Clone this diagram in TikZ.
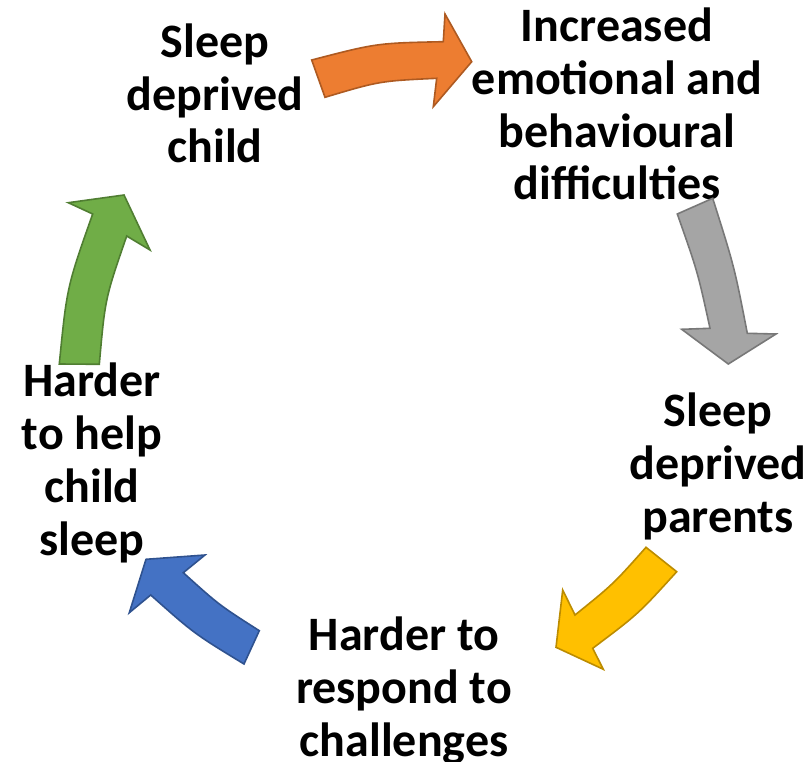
\documentclass[tikz,border=0pt]{standalone}
\usepackage{fontspec}
\setmainfont{Carlito}
\definecolor{orangeF}{HTML}{ED7D31}\definecolor{orangeD}{HTML}{AE5A21}
\definecolor{grayF}{HTML}{A5A5A5}\definecolor{grayD}{HTML}{787878}
\definecolor{yellowF}{HTML}{FFC000}\definecolor{yellowD}{HTML}{BC8C00}
\definecolor{blueF}{HTML}{4472C4}\definecolor{blueD}{HTML}{2F528F}
\definecolor{greenF}{HTML}{70AD47}\definecolor{greenD}{HTML}{507E32}
\begin{document}
\begin{tikzpicture}[x=1pt,y=-1pt,
  lbl/.style={align=center,anchor=base,inner sep=0pt,font=\bfseries\fontsize{48}{52.7}\selectfont},
  arr/.style={line width=1.6pt,line join=miter}]
\useasboundingbox (0,0) rectangle (808,762);
% labels (anchored at the baseline of their last line)
\node[lbl] (child) at (215,163) {Sleep\\deprived\\child};
\node[lbl] (emot) at (617,200) {Increased\\emotional and\\behavioural\\difficulties};
\node[lbl] (parents) at (718,532) {Sleep\\deprived\\parents};
\node[lbl] (resp) at (404,756) {Harder to\\respond to\\challenges};
\node[lbl] (help) at (92,555) {Harder\\to help\\child\\sleep};
% arrows
\draw[arr,fill=orangeF,draw=orangeD] (311.7,60) .. controls (376.8,43.1) .. (443.3,41.7) -- (445,14) -- (471.7,61.7) -- (433.3,106.7) -- (436.7,78.3) .. controls (379.7,81) .. (325,97.3) -- cycle;
\draw[arr,fill=grayF,draw=grayD] (712.7,198.3) .. controls (734.4,267) .. (747.3,333.3) -- (776,334) -- (728.3,364) -- (681.7,329.3) -- (710,328.3) .. controls (697.7,271.9) .. (677.3,214) -- cycle;
\draw[arr,fill=yellowF,draw=yellowD] (646,547.3) .. controls (613.3,584.1) .. (575,615) -- (562.7,590) -- (556,647.3) -- (603.3,669.3) -- (592.7,648.3) .. controls (638.4,613.9) .. (676.7,571.7) -- cycle;
\draw[arr,fill=blueF,draw=blueD] (244,664) .. controls (194.2,633.7) .. (150.7,595) -- (129.3,612.7) -- (146,559.3) -- (205,555) -- (183.3,572.7) .. controls (218.9,604.9) .. (259.3,630.7) -- cycle;
\draw[arr,fill=greenF,draw=greenD] (59.3,364) .. controls (66.9,287) .. (92.7,214) -- (68.3,202.7) -- (124,195) -- (150,250) -- (126.7,236) .. controls (105.1,298.5) .. (99.3,364.3) -- cycle;
\end{tikzpicture}
\end{document}
